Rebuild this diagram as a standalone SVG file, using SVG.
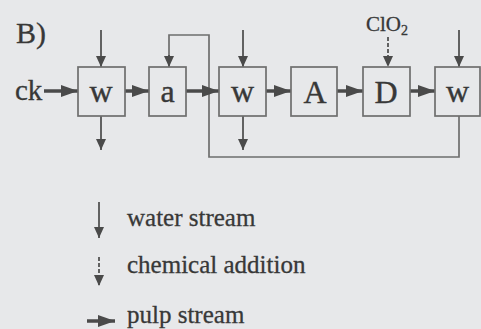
<svg xmlns="http://www.w3.org/2000/svg" width="481" height="329" viewBox="0 0 481 329">
<defs>
<style>
.bg{fill:#e7e8ea}
.box{fill:none;stroke:#6e6e6e;stroke-width:1.7}
.lbl{font-family:"Liberation Serif","Times New Roman",serif;font-size:32px;fill:#383838;stroke:#383838;stroke-width:0.4;text-anchor:middle}
.txt{font-family:"Liberation Serif","Times New Roman",serif;font-size:25px;fill:#383838;stroke:#383838;stroke-width:0.3}
.water{fill:none;stroke:#4a4a4a;stroke-width:1.7;marker-end:url(#thin)}
.chem{fill:none;stroke:#4a4a4a;stroke-width:1.7;stroke-dasharray:4,2;marker-end:url(#thin)}
.pulp{fill:none;stroke:#4a4a4a;stroke-width:3.5;marker-end:url(#thick)}
.loop{fill:none;stroke:#6e6e6e;stroke-width:1.7}
</style>
<marker id="thin" markerUnits="userSpaceOnUse" markerWidth="12" markerHeight="12" refX="11" refY="6" orient="auto">
<path d="M0,1 L11,6 L0,11 Z" fill="#4a4a4a"/>
</marker>
<marker id="thick" markerUnits="userSpaceOnUse" markerWidth="18" markerHeight="14" refX="17" refY="7" orient="auto">
<path d="M0,1 L17,7 L0,13 Z" fill="#4a4a4a"/>
</marker>
</defs>
<rect class="bg" x="0" y="0" width="481" height="329"/>
<text x="16" y="43" class="txt" style="font-size:30px">B)</text>
<text x="15" y="100" class="txt" style="font-size:29px">ck</text>
<g id="connectors">
<path class="loop" d="M459,116 V157 H209 V35 H169 V56"/>
<path class="water" d="M169,55 V67"/>
<path class="pulp" d="M44,91 H78"/>
<path class="pulp" d="M125,91 H149"/>
<path class="pulp" d="M186,91 H219"/>
<path class="pulp" d="M266,91 H291"/>
<path class="pulp" d="M337,91 H363"/>
<path class="pulp" d="M410,91 H435"/>
<path class="water" d="M101,30 V67"/>
<path class="water" d="M101,116 V150"/>
<path class="water" d="M243,30 V67"/>
<path class="water" d="M243,116 V150"/>
<path class="water" d="M459,30 V67"/>
<path class="chem" d="M388,37 V67"/>
</g>
<g id="w1"><rect class="box" x="78" y="67" width="47" height="49"/><text class="lbl" x="101" y="102">w</text></g>
<g id="a"><rect class="box" x="149" y="67" width="37" height="49"/><text class="lbl" x="167.5" y="102">a</text></g>
<g id="w2"><rect class="box" x="219" y="67" width="47" height="49"/><text class="lbl" x="242.5" y="102">w</text></g>
<g id="A"><rect class="box" x="291" y="67" width="46" height="49"/><text class="lbl" x="315" y="103">A</text></g>
<g id="D"><rect class="box" x="363" y="67" width="47" height="49"/><text class="lbl" x="386" y="103">D</text></g>
<g id="w3"><rect class="box" x="435" y="67" width="45" height="49"/><text class="lbl" x="457.5" y="102">w</text></g>
<text x="366" y="31" class="txt" style="font-size:21px">ClO<tspan font-size="14" dy="4">2</tspan></text>
<g id="legend">
<path class="water" d="M99,202 V238"/>
<text class="txt" x="127" y="226">water stream</text>
<path class="chem" d="M99,257 V286"/>
<text class="txt" x="127" y="273">chemical addition</text>
<path class="pulp" d="M87,321 H115"/>
<text class="txt" x="127" y="323">pulp stream</text>
</g>
</svg>
